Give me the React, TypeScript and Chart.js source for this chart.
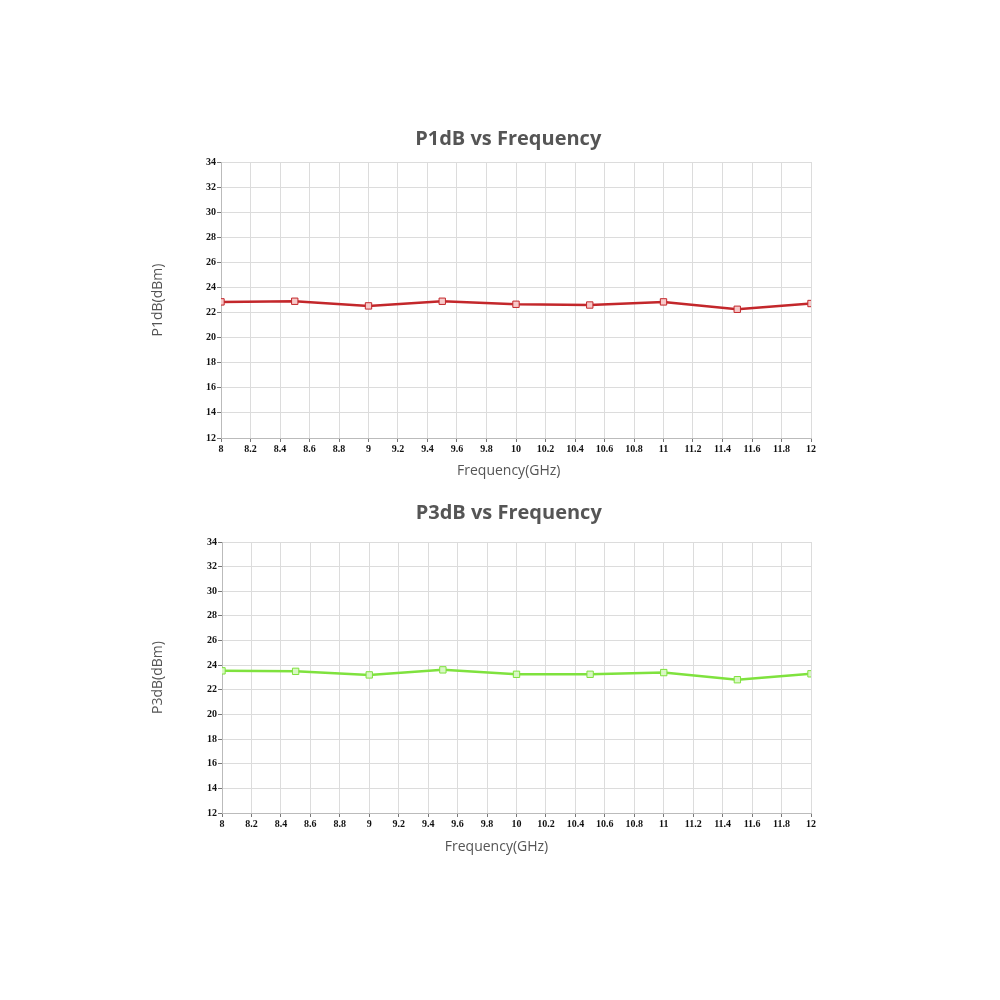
import React, { useEffect, useRef } from "react";
import { Chart, registerables } from "chart.js";

Chart.register(...registerables);

const frequencies = [8, 8.5, 9, 9.5, 10, 10.5, 11, 11.5, 12];
const p1dbValues = [22.85, 22.9, 22.53, 22.9, 22.66, 22.6, 22.85, 22.26, 22.72];
const p3dbValues = [23.54, 23.5, 23.21, 23.62, 23.26, 23.26, 23.4, 22.82, 23.3];
const xTicks = [8, 8.2, 8.4, 8.6, 8.8, 9, 9.2, 9.4, 9.6, 9.8, 10, 10.2, 10.4, 10.6, 10.8, 11, 11.2, 11.4, 11.6, 11.8, 12];
const yTicks = [12, 14, 16, 18, 20, 22, 24, 26, 28, 30, 32, 34];

type Cfg = {
  title: string;
  yTitle: string;
  xTitle: string;
  values: number[];
  line: string;
  pointFill: string;
  titlePad: { top: number; bottom: number };
  xTitlePadBottom: number;
  yAxisWidth: number;
};

const tickFont = { family: "'Liberation Serif'", size: 10, weight: "bold" };

function makeChart(canvas: HTMLCanvasElement, c: Cfg) {
  return new Chart(canvas, {
    type: "line",
    data: {
      datasets: [
        {
          data: frequencies.map((f, i) => ({ x: f, y: c.values[i] })),
          borderColor: c.line,
          borderWidth: 2.5,
          pointStyle: "rect",
          pointRadius: 4.5,
          pointBorderWidth: 1,
          pointBorderColor: c.line,
          pointBackgroundColor: c.pointFill,
          tension: 0,
        },
      ],
    },
    options: {
      animation: false,
      responsive: false,
      layout: { padding: { left: 0, right: 20, top: 0, bottom: 0 } },
      plugins: {
        legend: { display: false },
        tooltip: { enabled: false },
        title: {
          display: true,
          fullSize: false,
          text: c.title,
          color: "#555555",
          font: { family: "'Open Sans'", size: 20, weight: "bold", lineHeight: 1.2 },
          padding: c.titlePad,
        },
      },
      scales: {
        x: {
          type: "linear",
          min: 8,
          max: 12,
          afterBuildTicks: (scale: any) => {
            scale.ticks = xTicks.map((v) => ({ value: v }));
          },
          afterFit: (scale: any) => {
            scale.height = 52;
          },
          ticks: {
            autoSkip: false,
            maxRotation: 0,
            padding: 1,
            color: "#111",
            font: tickFont,
            callback: (v: any) => String(Math.round(Number(v) * 10) / 10),
          },
          grid: { color: "#dcdcdc", tickColor: "#777", tickLength: 4, drawTicks: true },
          border: { color: "#bbbbbb" },
          title: {
            display: true,
            text: c.xTitle,
            color: "#555555",
            font: { family: "'Open Sans'", size: 14, lineHeight: 1.2 },
            padding: { top: 0, bottom: c.xTitlePadBottom },
          },
        },
        y: {
          type: "linear",
          min: 12,
          max: 34,
          afterBuildTicks: (scale: any) => {
            scale.ticks = yTicks.map((v) => ({ value: v }));
          },
          afterFit: (scale: any) => {
            scale.width = c.yAxisWidth;
          },
          ticks: {
            padding: 1,
            color: "#111",
            font: tickFont,
          },
          grid: { color: "#dcdcdc", tickColor: "#777", tickLength: 4 },
          border: { color: "#bbbbbb" },
          title: {
            display: true,
            text: c.yTitle,
            color: "#555555",
            font: { family: "'Open Sans'", size: 14, lineHeight: 1.2 },
            padding: { top: 20, bottom: 0 },
          },
        },
      },
    },
  } as any);
}

export default function App() {
  const ref1 = useRef<HTMLCanvasElement>(null);
  const ref2 = useRef<HTMLCanvasElement>(null);

  useEffect(() => {
    const c1 = makeChart(ref1.current!, {
      title: "P1dB vs Frequency\u00a0\u00a0\u00a0",
      yTitle: "P1dB(dBm)",
      xTitle: "Frequency(GHz)\u00a0\u00a0\u00a0\u00a0",
      values: p1dbValues,
      line: "#c3272b",
      pointFill: "#f7c9c9",
      titlePad: { top: 17, bottom: 11 },
      xTitlePadBottom: 10.6,
      yAxisWidth: 91,
    });
    const c2 = makeChart(ref2.current!, {
      title: "P3dB vs Frequency\u00a0\u00a0\u00a0",
      yTitle: "P3dB(dBm)",
      xTitle: "Frequency(GHz)\u00a0\u00a0\u00a0\u00a0\u00a0\u00a0\u00a0\u00a0\u00a0\u00a0\u00a0",
      values: p3dbValues,
      line: "#7fe23e",
      pointFill: "#d9f7c4",
      titlePad: { top: 11, bottom: 17 },
      xTitlePadBottom: 9.6,
      yAxisWidth: 92,
    });
    return () => {
      c1.destroy();
      c2.destroy();
    };
  }, []);

  return (
    <div style={{ position: "absolute", left: 0, top: 0, width: 1000, height: 1000, background: "#fff" }}>
      <canvas ref={ref1} width={701} height={380} style={{ position: "absolute", left: 130, top: 110, display: "block" }} />
      <canvas ref={ref2} width={701} height={375} style={{ position: "absolute", left: 130, top: 490, display: "block" }} />
    </div>
  );
}
